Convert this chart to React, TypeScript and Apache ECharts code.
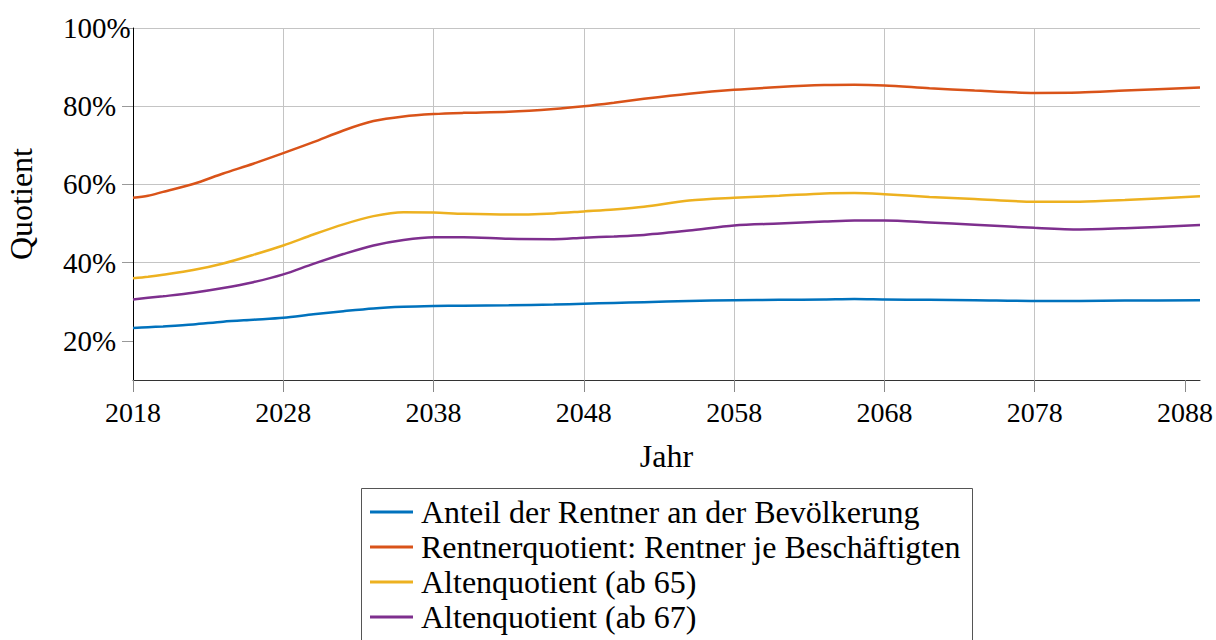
import React, { useEffect, useRef } from "react";
import * as echarts from "echarts";

const years = [2018, 2019, 2020, 2022, 2024, 2026, 2028, 2030, 2032, 2034, 2036, 2038, 2040, 2043, 2046, 2048, 2050, 2052, 2055, 2058, 2061, 2064, 2066, 2068, 2071, 2074, 2078, 2081, 2084, 2089];

const anteilRentner = [23.3, 23.5, 23.7, 24.2, 24.9, 25.4, 25.9, 26.8, 27.6, 28.3, 28.7, 28.9, 29.0, 29.1, 29.3, 29.5, 29.7, 29.9, 30.2, 30.4, 30.5, 30.6, 30.7, 30.6, 30.5, 30.4, 30.2, 30.2, 30.3, 30.4];
const rentnerquotient = [56.6, 57.1, 58.1, 60.1, 62.8, 65.3, 68.0, 70.8, 73.8, 76.2, 77.4, 78.0, 78.3, 78.6, 79.3, 80.0, 80.9, 81.9, 83.2, 84.2, 84.9, 85.4, 85.5, 85.3, 84.6, 84.0, 83.4, 83.5, 84.0, 84.8];
const alten65 = [36.0, 36.4, 36.9, 38.1, 39.8, 42.0, 44.4, 47.2, 49.8, 51.9, 52.9, 52.8, 52.5, 52.3, 52.6, 53.1, 53.6, 54.3, 55.9, 56.6, 57.1, 57.7, 57.8, 57.5, 56.8, 56.3, 55.6, 55.6, 56.0, 57.0];
const alten67 = [30.6, 31.0, 31.4, 32.3, 33.5, 35.0, 37.0, 39.7, 42.2, 44.4, 45.8, 46.5, 46.5, 46.1, 46.0, 46.4, 46.7, 47.1, 48.2, 49.5, 50.0, 50.5, 50.8, 50.8, 50.3, 49.7, 48.9, 48.5, 48.8, 49.6];

const seriesNames = [
  "Anteil der Rentner an der Bevölkerung",
  "Rentnerquotient: Rentner je Beschäftigten",
  "Altenquotient (ab 65)",
  "Altenquotient (ab 67)",
];
const seriesColors = ["#0072BD", "#D95319", "#EDB120", "#7E2F8E"];

const xTicks = [2018, 2028, 2038, 2048, 2058, 2068, 2078, 2088];
const yTicks = [20, 40, 60, 80, 100];

const FONT = "Liberation Serif";

export default function App() {
  const ref = useRef<HTMLDivElement>(null);
  useEffect(() => {
    if (!ref.current) return;
    const chart = echarts.init(ref.current, undefined, { renderer: "svg" });
    const allData = [anteilRentner, rentnerquotient, alten65, alten67];
    chart.setOption({
      animation: false,
      textStyle: { fontFamily: FONT, color: "#000" },
      grid: { left: 133, right: 16, top: 28, bottom: 260, containLabel: false, outerBoundsMode: "none" },
      xAxis: {
        type: "value",
        min: 2018,
        max: 2089,
        interval: 10,
        name: "Jahr",
        nameLocation: "middle",
        nameGap: 60,
        nameTextStyle: { fontFamily: FONT, fontSize: 32, color: "#000" },
        axisLine: { show: true, lineStyle: { color: "#333", width: 1 } },
        axisTick: { show: true, length: 12, lineStyle: { color: "#888" }, customValues: xTicks },
        axisLabel: {
          fontFamily: FONT,
          fontSize: 28,
          color: "#000",
          margin: 18,
          customValues: xTicks,
          formatter: (v: number) => String(v),
        },
        splitLine: { show: true, showMaxLine: false, lineStyle: { color: "#c4c4c4", width: 1 } },
      },
      yAxis: {
        type: "value",
        min: 10,
        max: 100,
        name: "Quotient",
        nameLocation: "middle",
        nameGap: 96,
        nameRotate: 90,
        nameTextStyle: { fontFamily: FONT, fontSize: 32, color: "#000" },
        axisLine: { show: true, lineStyle: { color: "#000", width: 1 } },
        axisTick: { show: true, length: 11, lineStyle: { color: "#999" }, customValues: yTicks },
        axisLabel: {
          fontFamily: FONT,
          fontSize: 29,
          color: "#000",
          align: "left",
          margin: 70,
          customValues: yTicks,
          formatter: (v: number) => v + "%",
        },
        splitLine: { show: true, showMinLine: false, lineStyle: { color: "#c4c4c4", width: 1 } },
      },
      legend: {
        orient: "vertical",
        left: 370,
        top: 495,
        padding: 0,
        itemGap: 1,
        itemWidth: 43,
        itemHeight: 3,
        icon: "rect",
        textStyle: { fontFamily: FONT, fontSize: 32, color: "#000", lineHeight: 34, padding: [0, 0, 0, 3] },
        data: seriesNames,
      },
      graphic: [
        {
          type: "rect",
          shape: { x: 361.5, y: 488.5, width: 611, height: 200 },
          style: { fill: "none", stroke: "#555", lineWidth: 1 },
          silent: true,
        },
      ],
      series: seriesNames.map((name, i) => ({
        name,
        type: "line",
        smooth: 0.3,
        symbol: "none",
        color: seriesColors[i],
        lineStyle: { width: 2.5, color: seriesColors[i] },
        data: years.map((y, j) => [y, allData[i][j]]),
      })),
    });
    return () => chart.dispose();
  }, []);
  return <div ref={ref} style={{ position: "absolute", left: 0, top: 0, width: 1216, height: 640 }} />;
}
